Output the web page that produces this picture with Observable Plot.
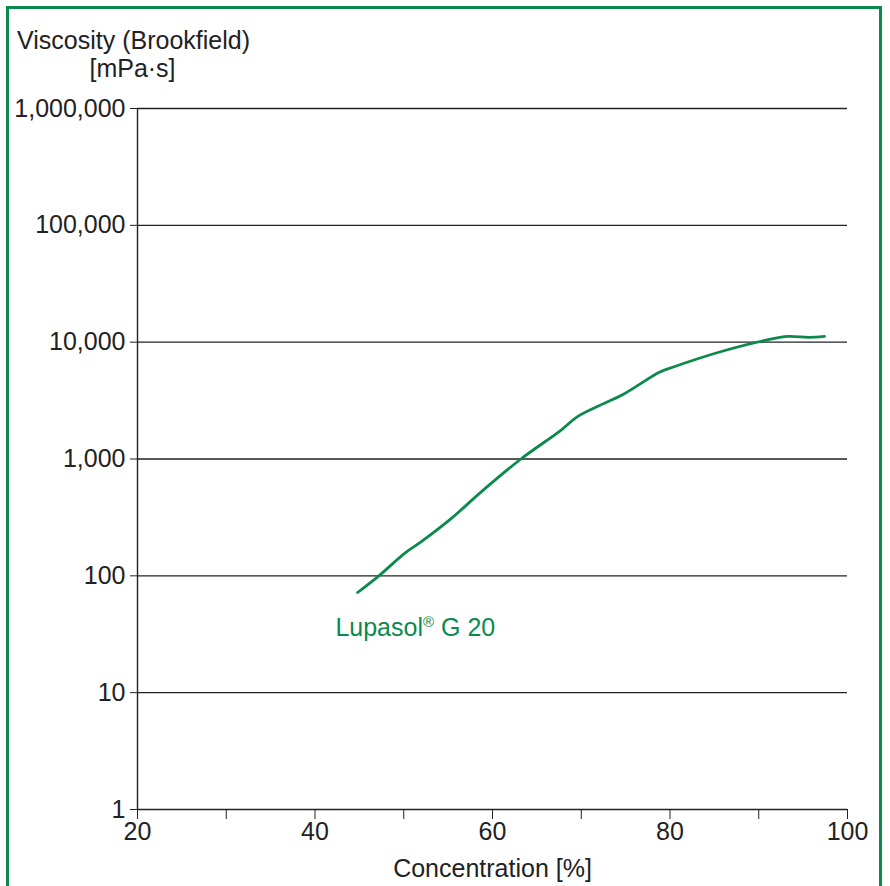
<!DOCTYPE html>
<html>
<head>
<meta charset="utf-8">
<script src="https://cdn.jsdelivr.net/npm/d3@7"></script>
<script src="https://cdn.jsdelivr.net/npm/@observablehq/plot@0.6"></script>
<style>
  html, body { margin: 0; padding: 0; background: #fff; overflow: hidden; }
  #wrap { position: relative; width: 890px; height: 886px; }
  #border { position: absolute; left: 6px; top: 6px; width: 870px; height: 900px;
            border: 3px solid #0b8a4c; pointer-events: none; }
</style>
</head>
<body>
<div id="wrap"><div id="chart"></div><div id="border"></div></div>
<script>
// Lupasol G 20 viscosity curve
const concentration = [44.8, 47.2, 50.2, 51.9, 55.3, 58.7, 63.2, 67.7, 69.5, 71.8, 74.7, 78.8, 80.3, 85.5, 90.7, 93.3, 95.6, 97.4];
const viscosity     = [72, 100, 158, 194, 307, 521, 1000, 1758, 2285, 2810, 3565, 5520, 6100, 8200, 10350, 11200, 11000, 11200];
const yTicks = [1, 10, 100, 1000, 10000, 100000, 1000000];
const xTicks = [20, 30, 40, 50, 60, 70, 80, 90, 100];
const xLabelTicks = [20, 40, 60, 80, 100];
const seriesLabel = [{x: 42.3, y: 36, text: "Lupasol® G 20"}];

const green = "#0b8a4c";
const ink = "#222";
const data = concentration.map((c, i) => ({c, v: viscosity[i]}));

const plot = Plot.plot({
  width: 890,
  height: 886,
  marginLeft: 137,
  marginRight: 43,
  marginTop: 108,
  marginBottom: 77,
  style: {fontFamily: "'Liberation Sans', Arial, sans-serif", fontSize: "25px", color: ink, background: "#fff"},
  x: {domain: [20, 100]},
  y: {type: "log", domain: [1, 1000000]},
  marks: [
    Plot.ruleY(yTicks, {stroke: ink, strokeWidth: 1.4}),
    Plot.ruleX([20], {y1: 1, y2: 1000000, stroke: ink, strokeWidth: 1.4}),
    Plot.axisY({ticks: yTicks, tickFormat: d3.format(","), tickSize: 7, tickPadding: 5, label: null, stroke: ink, fontSize: 25}),
    Plot.axisX({ticks: xTicks, tickFormat: d => xLabelTicks.includes(d) ? String(d) : "", tickSize: 10, tickPadding: 3, label: null, stroke: ink, fontSize: 25}),
    Plot.line(data, {x: "c", y: "v", stroke: green, strokeWidth: 2.8, curve: "catmull-rom"}),
    Plot.text(seriesLabel, {x: "x", y: "y", text: "text", fill: green, textAnchor: "start", fontSize: 25}),
    Plot.text(["Concentration [%]"], {frameAnchor: "bottom", dy: 59, lineAnchor: "middle", textAnchor: "middle", fill: ink, fontSize: 25}),
    Plot.text(["Viscosity (Brookfield)"], {frameAnchor: "top-left", dx: -4, dy: -68, lineAnchor: "middle", textAnchor: "middle", fill: ink, fontSize: 25}),
    Plot.text(["[mPa·s]"], {frameAnchor: "top-left", dx: -5, dy: -40, lineAnchor: "middle", textAnchor: "middle", fill: ink, fontSize: 25})
  ]
});
document.getElementById("chart").appendChild(plot);

// superscript the registered mark
d3.select(plot).selectAll("text").each(function() {
  const t = this.textContent;
  if (t.includes("®")) {
    const [a, b] = t.split("®");
    const el = d3.select(this);
    el.text(null);
    el.append("tspan").text(a);
    el.append("tspan").attr("font-size", 15).attr("dy", -9).text("®");
    el.append("tspan").attr("dy", 9).text(b);
  }
});
</script>
</body>
</html>
